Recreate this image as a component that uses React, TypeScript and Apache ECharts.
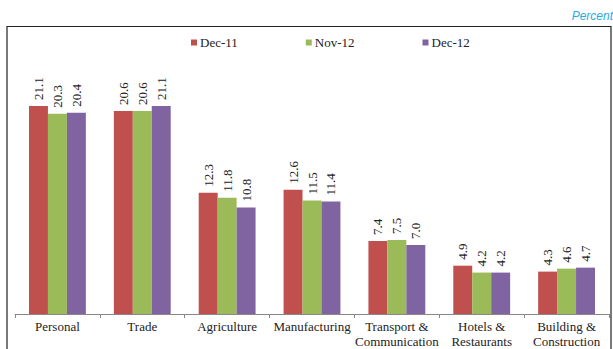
import React, { useEffect, useRef } from "react";
import * as echarts from "echarts";

const categories = [
  "Personal",
  "Trade",
  "Agriculture",
  "Manufacturing",
  "Transport &\nCommunication",
  "Hotels &\nRestaurants",
  "Building &\nConstruction",
];
const seriesNames = ["Dec-11", "Nov-12", "Dec-12"];
const dec11 = [21.1, 20.6, 12.3, 12.6, 7.4, 4.9, 4.3];
const nov12 = [20.3, 20.6, 11.8, 11.5, 7.5, 4.2, 4.6];
const dec12 = [20.4, 21.1, 10.8, 11.4, 7.0, 4.2, 4.7];
const colors = ["#C0504D", "#9BBB59", "#8064A2"];

const serif = "Liberation Serif";

export default function App() {
  const ref = useRef<HTMLDivElement>(null);

  useEffect(() => {
    if (!ref.current) return;
    const chart = echarts.init(ref.current, undefined, { renderer: "svg" });
    const values = [dec11, nov12, dec12];
    chart.setOption({
      animation: false,
      backgroundColor: "#fff",
      graphic: [
        {
          type: "rect",
          shape: { x: 7, y: 26.5, width: 604, height: 340 },
          style: { fill: "none", stroke: "#222", lineWidth: 1.2 },
          z: 0,
        },
        {
          type: "text",
          right: 0,
          top: 10,
          style: {
            text: "Percent",
            fill: "#29ABE2",
            fontStyle: "italic",
            fontSize: 12,
            fontFamily: "Liberation Sans",
          },
        },
      ],
      legend: {
        top: 31,
        left: 186,
        itemGap: 68,
        itemWidth: 6,
        itemHeight: 6,
        icon: "rect",
        textStyle: { fontFamily: serif, fontSize: 13, color: "#222", padding: [0, 0, 0, -2] },
        data: seriesNames,
      },
      grid: { left: 15, right: 4, top: 67.5, bottom: 35, containLabel: false },
      xAxis: {
        type: "category",
        data: categories,
        axisLine: { lineStyle: { color: "#888", width: 1 } },
        axisTick: { show: true, length: 4, lineStyle: { color: "#888" } },
        axisLabel: {
          interval: 0,
          fontFamily: serif,
          fontSize: 13,
          color: "#222",
          lineHeight: 15,
          margin: 5,
        },
      },
      yAxis: {
        type: "value",
        min: 0,
        max: 25,
        show: false,
        splitLine: { show: false },
      },
      series: seriesNames.map((name, i) => ({
        name,
        type: "bar",
        data: values[i],
        barGap: "0%",
        barCategoryGap: "33%",
        itemStyle: { color: colors[i] },
        label: {
          show: true,
          position: "top",
          rotate: 90,
          align: "left",
          verticalAlign: "middle",
          distance: 6,
          fontFamily: serif,
          fontSize: 13,
          color: "#222",
          formatter: (p: any) => Number(p.value).toFixed(1),
        },
      })),
    });
    return () => chart.dispose();
  }, []);

  return (
    <div
      ref={ref}
      style={{ position: "absolute", left: 0, top: 0, width: 613, height: 349 }}
    />
  );
}
